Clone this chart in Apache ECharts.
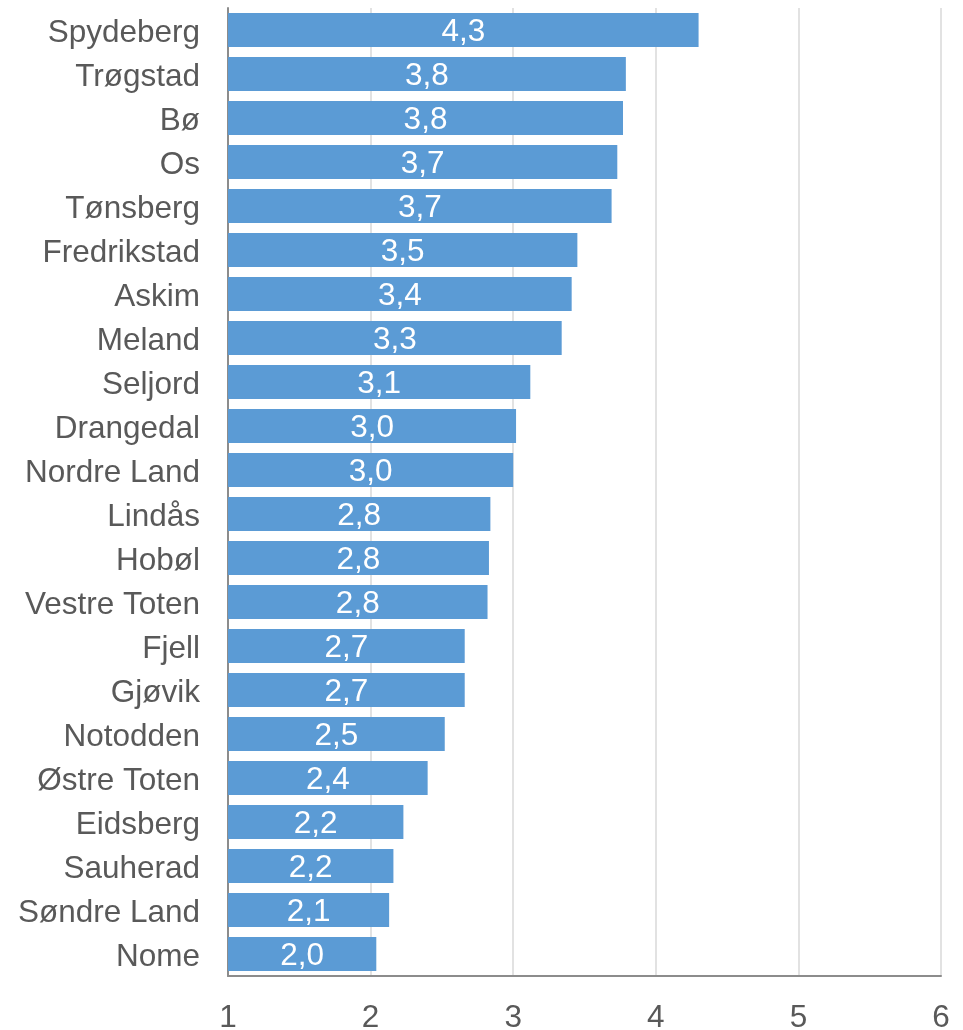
<!DOCTYPE html>
<html><head><meta charset="utf-8">
<script src="https://cdn.jsdelivr.net/npm/echarts@6/dist/echarts.min.js"></script>
<style>html,body{margin:0;padding:0;background:#fff}#c{width:963px;height:1030px}</style>
</head><body><div id="c"></div>
<script>
const categories = ["Spydeberg","Trøgstad","Bø","Os","Tønsberg","Fredrikstad","Askim","Meland","Seljord","Drangedal","Nordre Land","Lindås","Hobøl","Vestre Toten","Fjell","Gjøvik","Notodden","Østre Toten","Eidsberg","Sauherad","Søndre Land","Nome"];
const values = [4.30,3.79,3.77,3.73,3.69,3.45,3.41,3.34,3.12,3.02,3.00,2.84,2.83,2.82,2.66,2.66,2.52,2.40,2.23,2.16,2.13,2.04];
const xTicks = [1,2,3,4,5,6];

const chart = echarts.init(document.getElementById('c'), null, {renderer:'canvas'});
const font = 'Liberation Sans, Arial, sans-serif';
chart.setOption({
  animation:false,
  grid:{left:228,right:22,top:8,bottom:54,containLabel:false,outerBoundsMode:'none'},
  xAxis:{type:'value',min:xTicks[0],max:xTicks[xTicks.length-1],interval:1,
    axisLine:{show:true,lineStyle:{color:'#8c8c8c',width:2}},
    axisTick:{show:false},
    splitLine:{show:true,lineStyle:{color:'#d9d9d9',width:1.5}},
    axisLabel:{color:'#595959',fontSize:31.5,fontFamily:font,margin:26}},
  yAxis:{type:'category',inverse:true,data:categories,
    axisLine:{show:true,lineStyle:{color:'#8c8c8c',width:2}},
    axisTick:{show:false},
    axisLabel:{color:'#595959',fontSize:31.5,fontFamily:font,margin:28,verticalAlign:'top',lineHeight:7}},
  series:[{type:'bar',data:values,barCategoryGap:'23%',
    itemStyle:{color:'#5b9bd5'},
    label:{show:true,position:'inside',color:'#fff',fontSize:31.5,fontFamily:font,offset:[0,2],
      formatter:p=>p.value.toFixed(1).replace('.',',')}}]
});
</script></body></html>
